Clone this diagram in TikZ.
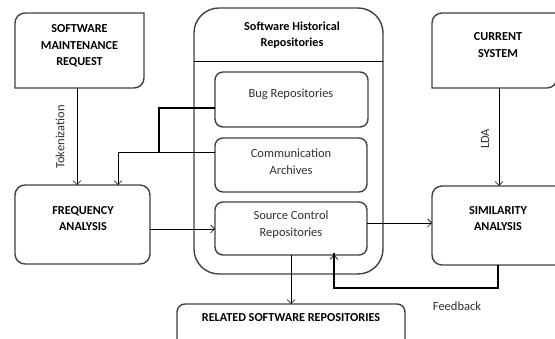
\documentclass[tikz,border=0pt]{standalone}
\usepackage{fontspec}
\setmainfont{Carlito}
\usetikzlibrary{arrows.meta}
\definecolor{boxgray}{HTML}{404040}
\definecolor{txtgray}{HTML}{303030}
\tikzset{
  boxline/.style={draw=boxgray, line width=1.4pt},
  area/.style={rectangle, inner sep=0pt, outer sep=0pt},
  roundbox/.style={area, boxline, rounded corners=#1},
  roundbox/.default=8pt,
  boldlbl/.style={font=\fontsize{12.2}{16.5}\selectfont\bfseries, text=black, align=center, inner sep=0pt},
  plainlbl/.style={font=\fontsize{12.5}{17}\selectfont, text=txtgray, align=center, inner sep=0pt},
  conn/.style={draw=black, line width=0.6pt},
  thick conn/.style={draw=black, line width=1.5pt},
  arr/.style={-{Straight Barb[length=4pt,width=8pt,line width=0.6pt]}},
}
\newcommand\diagbox[2]{%
  \draw[boxline] (#1.south west) -- ([yshift=-#2]#1.north west)
    arc[start angle=180,end angle=90,radius=#2] -- (#1.north east)
    -- ([yshift=#2]#1.south east) arc[start angle=0,end angle=-90,radius=#2] -- cycle;}
\begin{document}
\begin{tikzpicture}[x=1pt,y=1pt]
\useasboundingbox (0,0) rectangle (555,339);
\clip (0,0) rectangle (555,339);
% boxes
\node[area, minimum width=129pt, minimum height=75pt] (smr) at (79.5,288.5) {};
\diagbox{smr}{10pt}
\node[boldlbl] (smrt) at (79.5,293) {SOFTWARE\\MAINTENANCE\\REQUEST};

\node[roundbox=10pt, minimum width=135pt, minimum height=79pt] (fa) at (82.5,114.5) {};
\node[boldlbl] (fat) at (83,120.5) {FREQUENCY\\ANALYSIS};

\node[roundbox=25pt, minimum width=189pt, minimum height=266pt] (shr) at (288.5,198) {};
\node[boldlbl] (shrt) at (292,304) {Software Historical\\Repositories};
\draw[conn] (shr.west |- 0,278) coordinate (divl) -- (shr.east |- 0,278) coordinate (divr);

\node[roundbox, minimum width=153pt, minimum height=55pt] (bug) at (291.5,239.5) {};
\node[plainlbl] (bugt) at (291,245) {Bug Repositories};

\node[roundbox, minimum width=152pt, minimum height=54pt] (comm) at (291,174) {};
\node[plainlbl] (commt) at (291,177.5) {Communication\\Archives};

\node[roundbox, minimum width=152pt, minimum height=53pt] (scr) at (291,110.5) {};
\node[plainlbl] (scrt) at (291,114.5) {Source Control\\Repositories};

\node[area, minimum width=125pt, minimum height=75pt] (cs) at (494.5,288.5) {};
\diagbox{cs}{10pt}
\node[boldlbl] (cst) at (498,294) {CURRENT\\SYSTEM};

\node[roundbox=10pt, minimum width=140pt, minimum height=79pt] (sa) at (502,113.5) {};
\node[boldlbl] (sat) at (498,120.5) {SIMILARITY\\ANALYSIS};

\node[roundbox=8pt, minimum width=228pt, minimum height=44pt] (rsr) at (291,13) {};
\node[boldlbl] (rsrt) at (291,21) {RELATED SOFTWARE REPOSITORIES};

% connectors
\draw[conn, arr] (smr.south -| 77,0) -- (fa.north -| 77,0);
\node[plainlbl, rotate=90] (tok) at (60,202) {Tokenization};
\coordinate (cj) at (118,187);
\draw[conn, arr] (comm.west |- cj) -- (cj) -- (fa.north -| cj);
\coordinate (bj) at (159,231);
\draw[thick conn] (bug.west |- bj) -- (bj) -- (159,187);
\draw[conn, arr] (fa.east |- 0,110) -- (scr.west |- 0,110);
\draw[conn, arr] (scr.east |- 0,116) -- (sa.west |- 0,116);
\draw[conn, arr] (cs.south -| 499,0) -- (sa.north -| 499,0);
\node[plainlbl, rotate=90] (lda) at (485,200) {LDA};
\coordinate (fb1) at (498,51);
\coordinate (fb2) at (334,51);
\draw[thick conn] (sa.south -| fb1) -- (fb1) -- (fb2) -- ([yshift=2pt]scr.south -| fb2);
\draw[conn, arr] (fb2) -- (scr.south -| fb2);
\node[plainlbl] (fbt) at (457,33) {Feedback};
\draw[conn, arr] (scr.south -| 291,0) -- (rsr.north -| 291,0);
\end{tikzpicture}
\end{document}
